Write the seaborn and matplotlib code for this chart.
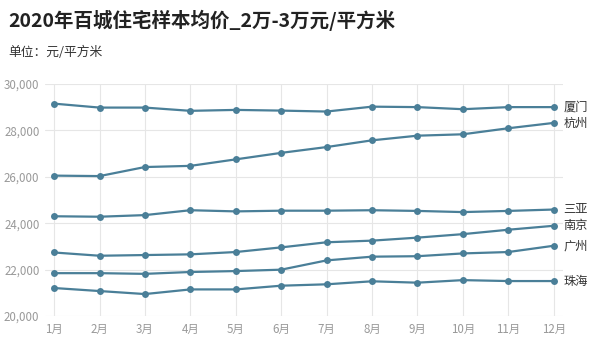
import matplotlib
matplotlib.use("Agg")
import matplotlib.pyplot as plt
import seaborn as sns
import pandas as pd

months = ["1月", "2月", "3月", "4月", "5月", "6月", "7月", "8月", "9月", "10月", "11月", "12月"]
cities = ["厦门", "杭州", "三亚", "南京", "广州", "珠海"]
xiamen = [29150, 28980, 28980, 28840, 28880, 28850, 28810, 29020, 29000, 28910, 29000, 29000]
hangzhou = [26050, 26030, 26420, 26470, 26750, 27030, 27280, 27570, 27770, 27830, 28090, 28320]
sanya = [24300, 24280, 24350, 24560, 24510, 24540, 24540, 24560, 24530, 24480, 24530, 24590]
nanjing = [22740, 22600, 22630, 22660, 22760, 22960, 23180, 23250, 23380, 23530, 23720, 23890]
guangzhou = [21850, 21850, 21820, 21900, 21940, 22000, 22400, 22560, 22580, 22700, 22760, 23030]
zhuhai = [21210, 21080, 20950, 21150, 21150, 21310, 21370, 21500, 21440, 21550, 21510, 21510]
series = [xiamen, hangzhou, sanya, nanjing, guangzhou, zhuhai]
yticks = [20000, 22000, 24000, 26000, 28000, 30000]

rows = []
for c, vals in zip(cities, series):
    for i, v in enumerate(vals):
        rows.append({"city": c, "idx": i, "price": v})
df = pd.DataFrame(rows)

sns.set_theme(style="white")
plt.rcParams["font.family"] = ["Noto Sans CJK SC", "DejaVu Sans"]

color = "#4a7f98"
fig = plt.figure(figsize=(6, 3.54), dpi=100)
ax = fig.add_axes([0.075, 0.107, 0.863, 0.656])
sns.lineplot(data=df, x="idx", y="price", hue="city", palette=[color] * len(cities),
             marker="o", markersize=5, markeredgewidth=0, linewidth=1.6, legend=False, ax=ax)

ax.set_xlim(-0.2, 11.2)
ax.set_ylim(20000, 30000)
ax.set_xticks(range(len(months)))
ax.set_xticklabels(months)
ax.set_yticks(yticks)
ax.set_yticklabels([f"{t:,}" for t in yticks])
ax.tick_params(axis="both", length=0, labelsize=8.3, colors="#999999")
ax.tick_params(axis="y", pad=4)
ax.tick_params(axis="x", pad=5)
ax.grid(True, color="#e6e6e6", linewidth=0.8)
for s in ax.spines.values():
    s.set_visible(False)
ax.set_xlabel("")
ax.set_ylabel("")

for c, vals in zip(cities, series):
    ax.annotate(c, xy=(len(months) - 1, vals[-1]), xytext=(7, 0), textcoords="offset points",
                va="center", ha="left", fontsize=8.8, color="#333333", annotation_clip=False)

fig.text(0.013, 0.942, "2020年百城住宅样本均价_2万-3万元/平方米", fontsize=14, fontweight="bold",
         color="#222222", va="center", ha="left")
fig.text(0.013, 0.853, "单位：元/平方米", fontsize=9.2, color="#333333", va="center", ha="left")

fig.savefig("out.png", dpi=100)
